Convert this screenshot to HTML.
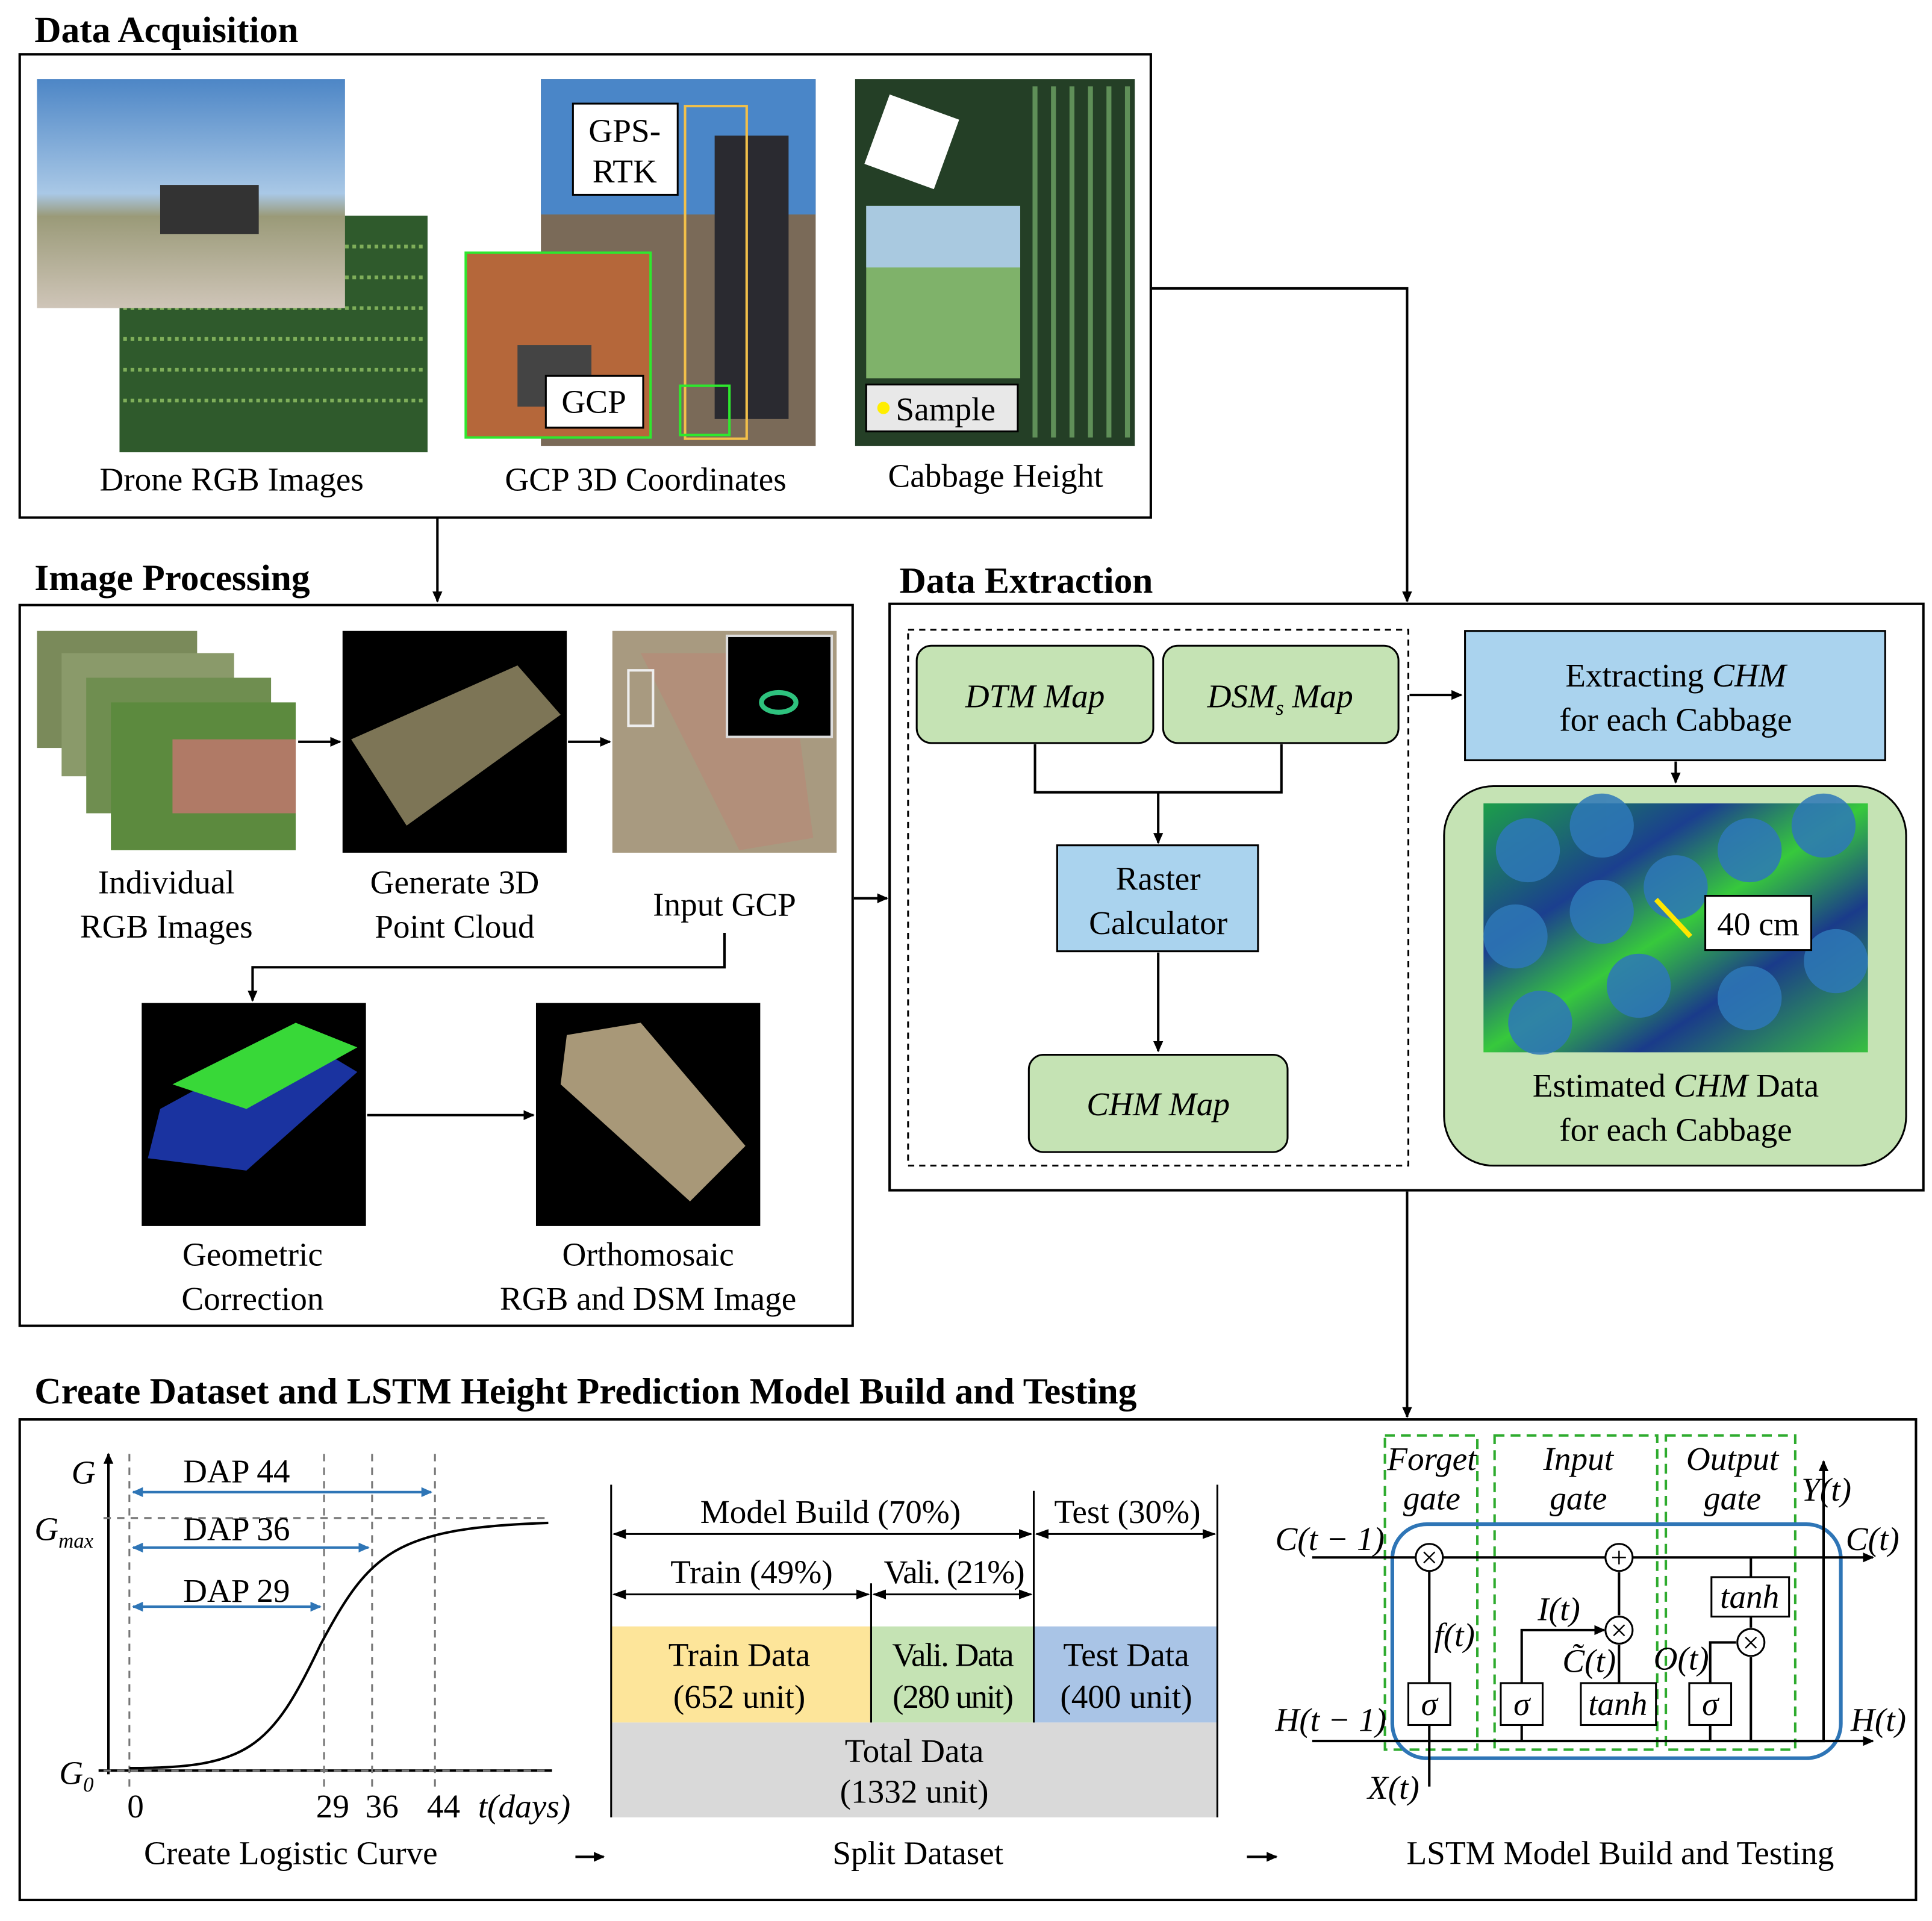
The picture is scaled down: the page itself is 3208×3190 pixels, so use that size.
<!DOCTYPE html>
<html><head><meta charset="utf-8"><style>
html,body{margin:0;padding:0;background:#fff;width:3208px;height:3190px;overflow:hidden}
svg{display:block}
text{font-family:"Liberation Serif",serif;fill:#000}
.t{font-size:27px}
.b{font-size:30px;font-weight:bold}
.i{font-style:italic}
</style></head><body>
<svg width="3208" height="3190" viewBox="0 0 1568 1559" xmlns="http://www.w3.org/2000/svg">
<defs>
<marker id="a" markerWidth="10" markerHeight="10" refX="8" refY="5" orient="auto" markerUnits="userSpaceOnUse"><path d="M0,1 L9,5 L0,9 z" fill="#000"/></marker>
<marker id="bl" markerWidth="10" markerHeight="10" refX="8" refY="5" orient="auto-start-reverse" markerUnits="userSpaceOnUse"><path d="M0,1 L9,5 L0,9 z" fill="#2e75b6"/></marker>
<marker id="k" markerWidth="12" markerHeight="10" refX="10" refY="5" orient="auto-start-reverse" markerUnits="userSpaceOnUse"><path d="M0,1 L11,5 L0,9 z" fill="#000"/></marker>
<linearGradient id="sky" x1="0" y1="0" x2="0" y2="1"><stop offset="0" stop-color="#4d86c6"/><stop offset=".5" stop-color="#a9c8e6"/><stop offset=".6" stop-color="#9a9a78"/><stop offset="1" stop-color="#cfc5b8"/></linearGradient>
<linearGradient id="heat" x1="0" y1="0" x2="1" y2="1"><stop offset="0" stop-color="#1c9e4a"/><stop offset=".3" stop-color="#1b3f8f"/><stop offset=".5" stop-color="#37c93c"/><stop offset=".7" stop-color="#1a3b8a"/><stop offset="1" stop-color="#38c040"/></linearGradient>
</defs>
<g fill="none" stroke="#000" stroke-width="2">
<rect x="16" y="44" width="918" height="376"/>
<rect x="16" y="491" width="676" height="585"/>
<rect x="722" y="490" width="839" height="476"/>
<rect x="16" y="1152" width="1539" height="390"/>
</g>
<text x="28" y="34" class="b">Data Acquisition</text>
<text x="28" y="479" class="b">Image Processing</text>
<text x="730" y="481" class="b">Data Extraction</text>
<text x="28" y="1139" class="b">Create Dataset and LSTM Height Prediction Model Build and Testing</text>
<rect x="97" y="175" width="250" height="192" fill="#2f5a2c"/>
<g stroke="#7fae5a" stroke-width="3" stroke-dasharray="3 3"><path d="M100 200H345M100 225H345M100 250H345M100 275H345M100 300H345M100 325H345"/></g>
<rect x="30" y="64" width="250" height="186" fill="url(#sky)"/>
<rect x="130" y="150" width="80" height="40" fill="#333"/>
<rect x="439" y="64" width="223" height="298" fill="#7a6a58"/>
<rect x="439" y="64" width="223" height="110" fill="#4a86c8"/>
<rect x="580" y="110" width="60" height="230" fill="#2a2a30"/>
<rect x="378" y="205" width="150" height="150" fill="#b5673a" stroke="#2ee82e" stroke-width="2"/>
<rect x="420" y="280" width="60" height="50" fill="#444"/>
<rect x="556" y="86" width="50" height="270" fill="none" stroke="#f2c04a" stroke-width="2"/>
<rect x="552" y="313" width="40" height="40" fill="none" stroke="#2ee82e" stroke-width="2"/>
<rect x="465" y="84" width="85" height="74" fill="#fff" stroke="#000" stroke-width="1.5"/>
<text x="507" y="115" class="t" text-anchor="middle">GPS-</text>
<text x="507" y="148" class="t" text-anchor="middle">RTK</text>
<rect x="443" y="305" width="79" height="42" fill="#fff" stroke="#000" stroke-width="1.5"/>
<text x="482" y="335" class="t" text-anchor="middle">GCP</text>
<rect x="694" y="64" width="227" height="298" fill="#243f26"/>
<g stroke="#5f8f58" stroke-width="4"><path d="M840 70V355M855 70V355M870 70V355M885 70V355M900 70V355M915 70V355"/></g>
<rect x="703" y="167" width="125" height="140" fill="#7fb26a"/>
<rect x="703" y="167" width="125" height="50" fill="#a9c9e0"/>
<rect x="710" y="85" width="60" height="60" fill="#fff" transform="rotate(20 740 115)"/>
<rect x="703" y="312" width="123" height="38" fill="#e8e8e8" stroke="#000" stroke-width="1.5"/>
<circle cx="717" cy="331" r="5" fill="#ffee00"/>
<text x="727" y="341" class="t">Sample</text>
<text x="188" y="398" class="t" text-anchor="middle">Drone RGB Images</text>
<text x="524" y="398" class="t" text-anchor="middle">GCP 3D Coordinates</text>
<text x="808" y="395" class="t" text-anchor="middle">Cabbage Height</text>
<g fill="none" stroke="#000" stroke-width="2">
<path d="M355 421V488" marker-end="url(#a)"/>
<path d="M935 234H1142V488" marker-end="url(#a)"/>
<path d="M242 602H276" marker-end="url(#a)"/>
<path d="M461 602H495" marker-end="url(#a)"/>
<path d="M588 757V785H205V812" marker-end="url(#a)"/>
<path d="M298 905H433" marker-end="url(#a)"/>
<path d="M693 729H720" marker-end="url(#a)"/>
<path d="M840 604V643H1040V604"/>
<path d="M940 643V684" marker-end="url(#a)"/>
<path d="M940 773V853" marker-end="url(#a)"/>
<path d="M1144 564H1186" marker-end="url(#a)"/>
<path d="M1360 618V635" marker-end="url(#a)"/>
<path d="M1142 967V1150" marker-end="url(#a)"/>
</g>
<g>
<rect x="30" y="512" width="130" height="95" fill="#7a8a5a"/>
<rect x="50" y="530" width="140" height="100" fill="#8a9a6a"/>
<rect x="70" y="550" width="150" height="110" fill="#6f8e50"/>
<rect x="90" y="570" width="150" height="120" fill="#5c8a3e"/>
<rect x="140" y="600" width="100" height="60" fill="#b07a66"/>
</g>
<rect x="278" y="512" width="182" height="180" fill="#000"/>
<path d="M285 600L420 540L455 580L330 670Z" fill="#7d7556"/>
<rect x="497" y="512" width="182" height="180" fill="#a89a80"/>
<path d="M520 530L640 530L660 680L600 690Z" fill="#b78a78" opacity=".7"/>
<rect x="590" y="516" width="85" height="82" fill="#000" stroke="#ddd" stroke-width="2"/>
<ellipse cx="632" cy="570" rx="14" ry="8" fill="none" stroke="#2ec27e" stroke-width="4"/>
<rect x="510" y="544" width="20" height="45" fill="none" stroke="#eee" stroke-width="2"/>
<text x="135" y="725" class="t" text-anchor="middle">Individual</text>
<text x="135" y="761" class="t" text-anchor="middle">RGB Images</text>
<text x="369" y="725" class="t" text-anchor="middle">Generate 3D</text>
<text x="369" y="761" class="t" text-anchor="middle">Point Cloud</text>
<text x="588" y="743" class="t" text-anchor="middle">Input GCP</text>
<rect x="115" y="814" width="182" height="181" fill="#000"/>
<path d="M130 900L240 840L290 870L200 950L120 940Z" fill="#2040c8" opacity=".8"/>
<path d="M140 880L240 830L290 850L200 900Z" fill="#38d838"/>
<rect x="435" y="814" width="182" height="181" fill="#000"/>
<path d="M460 840L520 830L605 930L560 975L455 880Z" fill="#a89878"/>
<text x="205" y="1027" class="t" text-anchor="middle">Geometric</text>
<text x="205" y="1063" class="t" text-anchor="middle">Correction</text>
<text x="526" y="1027" class="t" text-anchor="middle">Orthomosaic</text>
<text x="526" y="1063" class="t" text-anchor="middle">RGB and DSM Image</text>
<rect x="737" y="511" width="406" height="435" fill="none" stroke="#000" stroke-width="1.5" stroke-dasharray="5 4"/>
<g stroke="#000" stroke-width="1.5">
<rect x="744" y="524" width="192" height="79" rx="12" fill="#c5e3b4"/>
<rect x="944" y="524" width="191" height="79" rx="12" fill="#c5e3b4"/>
<rect x="858" y="686" width="163" height="86" fill="#aad3ee"/>
<rect x="835" y="856" width="210" height="79" rx="12" fill="#c5e3b4"/>
<rect x="1189" y="512" width="341" height="105" fill="#aad3ee"/>
<rect x="1172" y="638" width="375" height="308" rx="40" fill="#c5e3b4"/>
</g>
<text x="840" y="574" class="t i" text-anchor="middle">DTM Map</text>
<text x="1039" y="574" class="t i" text-anchor="middle">DSM<tspan font-size="17" dy="6">s</tspan><tspan dy="-6"> Map</tspan></text>
<text x="940" y="722" class="t" text-anchor="middle">Raster</text>
<text x="940" y="758" class="t" text-anchor="middle">Calculator</text>
<text x="940" y="905" class="t i" text-anchor="middle">CHM Map</text>
<text x="1360" y="557" class="t" text-anchor="middle">Extracting <tspan class="i">CHM</tspan></text>
<text x="1360" y="593" class="t" text-anchor="middle">for each Cabbage</text>
<rect x="1204" y="652" width="312" height="202" fill="url(#heat)"/>
<g fill="#2e78b8" opacity=".85">
<circle cx="1240" cy="690" r="26"/><circle cx="1300" cy="670" r="26"/><circle cx="1230" cy="760" r="26"/><circle cx="1300" cy="740" r="26"/><circle cx="1360" cy="720" r="26"/><circle cx="1420" cy="690" r="26"/><circle cx="1480" cy="670" r="26"/><circle cx="1250" cy="830" r="26"/><circle cx="1330" cy="800" r="26"/><circle cx="1420" cy="810" r="26"/><circle cx="1490" cy="780" r="26"/>
</g>
<path d="M1344 730L1372 760" stroke="#ffe600" stroke-width="4"/>
<rect x="1384" y="727" width="86" height="44" fill="#fff" stroke="#000" stroke-width="1.5"/>
<text x="1427" y="759" class="t" text-anchor="middle">40 cm</text>
<text x="1360" y="890" class="t" text-anchor="middle">Estimated <tspan class="i">CHM</tspan> Data</text>
<text x="1360" y="926" class="t" text-anchor="middle">for each Cabbage</text>
<g stroke="#000" stroke-width="2" fill="none">
<path d="M88 1440V1180" marker-end="url(#a)"/>
<path d="M80 1437H448"/>
</g>
<g stroke="#777" stroke-width="1.5" stroke-dasharray="6 5" fill="none">
<path d="M84 1232H445M84 1437H445M105 1180V1450M263 1180V1450M302 1180V1450M353 1180V1450"/>
</g>
<g stroke="#2e75b6" stroke-width="2" fill="none">
<path d="M108 1211H350" marker-start="url(#bl)" marker-end="url(#bl)"/>
<path d="M108 1256H299" marker-start="url(#bl)" marker-end="url(#bl)"/>
<path d="M108 1304H260" marker-start="url(#bl)" marker-end="url(#bl)"/>
</g>
<path d="M105 1435C200 1435 220 1420 260 1335C300 1260 320 1240 445 1236" fill="none" stroke="#000" stroke-width="2"/>
<text x="192" y="1203" class="t" text-anchor="middle">DAP 44</text>
<text x="192" y="1250" class="t" text-anchor="middle">DAP 36</text>
<text x="192" y="1300" class="t" text-anchor="middle">DAP 29</text>
<text x="58" y="1204" class="t i">G</text>
<text x="28" y="1250" class="t i">G<tspan font-size="17" dy="6">max</tspan></text>
<text x="48" y="1448" class="t i">G<tspan font-size="17" dy="6">0</tspan></text>
<text x="110" y="1475" class="t" text-anchor="middle">0</text>
<text x="270" y="1475" class="t" text-anchor="middle">29</text>
<text x="310" y="1475" class="t" text-anchor="middle">36</text>
<text x="360" y="1475" class="t" text-anchor="middle">44</text>
<text x="388" y="1475" class="t i">t(days)</text>
<rect x="496" y="1320" width="211" height="78" fill="#fde59a"/>
<rect x="707" y="1320" width="132" height="78" fill="#c5e3b4"/>
<rect x="839" y="1320" width="149" height="78" fill="#a9c4e6"/>
<rect x="496" y="1398" width="492" height="77" fill="#d9d9d9"/>
<g stroke="#000" stroke-width="1.5" fill="none">
<path d="M496 1205V1475M988 1205V1475M707 1285V1398M839 1210V1398"/>
<path d="M498 1245H837" marker-start="url(#k)" marker-end="url(#k)"/>
<path d="M841 1245H986" marker-start="url(#k)" marker-end="url(#k)"/>
<path d="M498 1294H705" marker-start="url(#k)" marker-end="url(#k)"/>
<path d="M709 1294H837" marker-start="url(#k)" marker-end="url(#k)"/>
</g>
<text x="674" y="1236" class="t" text-anchor="middle">Model Build (70%)</text>
<text x="915" y="1236" class="t" text-anchor="middle">Test (30%)</text>
<text x="610" y="1285" class="t" text-anchor="middle">Train (49%)</text>
<text x="774" y="1285" class="t" letter-spacing="-1" text-anchor="middle">Vali. (21%)</text>
<text x="600" y="1352" class="t" text-anchor="middle">Train Data</text>
<text x="600" y="1386" class="t" text-anchor="middle">(652 unit)</text>
<text x="773" y="1352" class="t" letter-spacing="-1" text-anchor="middle">Vali. Data</text>
<text x="773" y="1386" class="t" letter-spacing="-1" text-anchor="middle">(280 unit)</text>
<text x="914" y="1352" class="t" text-anchor="middle">Test Data</text>
<text x="914" y="1386" class="t" text-anchor="middle">(400 unit)</text>
<text x="742" y="1430" class="t" text-anchor="middle">Total Data</text>
<text x="742" y="1463" class="t" text-anchor="middle">(1332 unit)</text>
<g stroke="#2eab2e" stroke-width="2" stroke-dasharray="8 5" fill="none">
<rect x="1124" y="1165" width="75" height="255"/>
<rect x="1213" y="1165" width="132" height="255"/>
<rect x="1352" y="1165" width="105" height="255"/>
</g>
<rect x="1130" y="1237" width="364" height="190" rx="28" fill="none" stroke="#2e75b6" stroke-width="3"/>
<g stroke="#000" stroke-width="2" fill="none">
<path d="M1065 1264H1520" marker-end="url(#a)"/>
<path d="M1065 1413H1520" marker-end="url(#a)"/>
<path d="M1160 1450V1264"/>
<path d="M1235 1413V1323H1302" marker-end="url(#a)"/>
<path d="M1314 1366V1335"/>
<path d="M1314 1311V1276"/>
<path d="M1388 1413V1333H1409"/>
<path d="M1421 1264V1280M1421 1312V1321M1421 1345V1413H1480V1186" marker-end="url(#a)"/>
</g>
<g stroke="#000" stroke-width="1.5" fill="#fff">
<circle cx="1160" cy="1264" r="11"/><circle cx="1314" cy="1264" r="11"/><circle cx="1314" cy="1323" r="11"/><circle cx="1421" cy="1333" r="11"/>
<rect x="1143" y="1366" width="34" height="34"/><rect x="1218" y="1366" width="34" height="34"/><rect x="1283" y="1366" width="61" height="34"/><rect x="1371" y="1366" width="34" height="34"/><rect x="1389" y="1280" width="63" height="32"/>
</g>
<g font-size="24" text-anchor="middle">
<text x="1160" y="1272">×</text><text x="1314" y="1272">+</text><text x="1314" y="1331">×</text><text x="1421" y="1341">×</text>
</g>
<text x="1160" y="1392" class="t i" text-anchor="middle">σ</text>
<text x="1235" y="1392" class="t i" text-anchor="middle">σ</text>
<text x="1313" y="1392" class="t i" text-anchor="middle">tanh</text>
<text x="1388" y="1392" class="t i" text-anchor="middle">σ</text>
<text x="1420" y="1305" class="t i" text-anchor="middle">tanh</text>
<text x="1162" y="1193" text-anchor="middle" class="t i">Forget</text>
<text x="1162" y="1225" text-anchor="middle" class="t i">gate</text>
<text x="1281" y="1193" text-anchor="middle" class="t i">Input</text>
<text x="1281" y="1225" text-anchor="middle" class="t i">gate</text>
<text x="1406" y="1193" text-anchor="middle" class="t i">Output</text>
<text x="1406" y="1225" text-anchor="middle" class="t i">gate</text>
<text x="1035" y="1258" class="t i">C(t − 1)</text>
<text x="1498" y="1258" class="t i">C(t)</text>
<text x="1035" y="1405" class="t i">H(t − 1)</text>
<text x="1502" y="1405" class="t i">H(t)</text>
<text x="1110" y="1460" class="t i">X(t)</text>
<text x="1462" y="1218" class="t i">Y(t)</text>
<text x="1164" y="1336" class="t i">f(t)</text>
<text x="1248" y="1315" class="t i">I(t)</text>
<text x="1268" y="1357" class="t i">C̃(t)</text>
<text x="1342" y="1355" class="t i">O(t)</text>
<text x="236" y="1513" class="t" text-anchor="middle">Create Logistic Curve</text>
<text x="745" y="1513" class="t" text-anchor="middle">Split Dataset</text>
<text x="1315" y="1513" class="t" text-anchor="middle">LSTM Model Build and Testing</text>
<g stroke="#000" stroke-width="2"><path d="M467 1507H490" marker-end="url(#a)"/><path d="M1012 1507H1036" marker-end="url(#a)"/></g>
</svg>
</body></html>
